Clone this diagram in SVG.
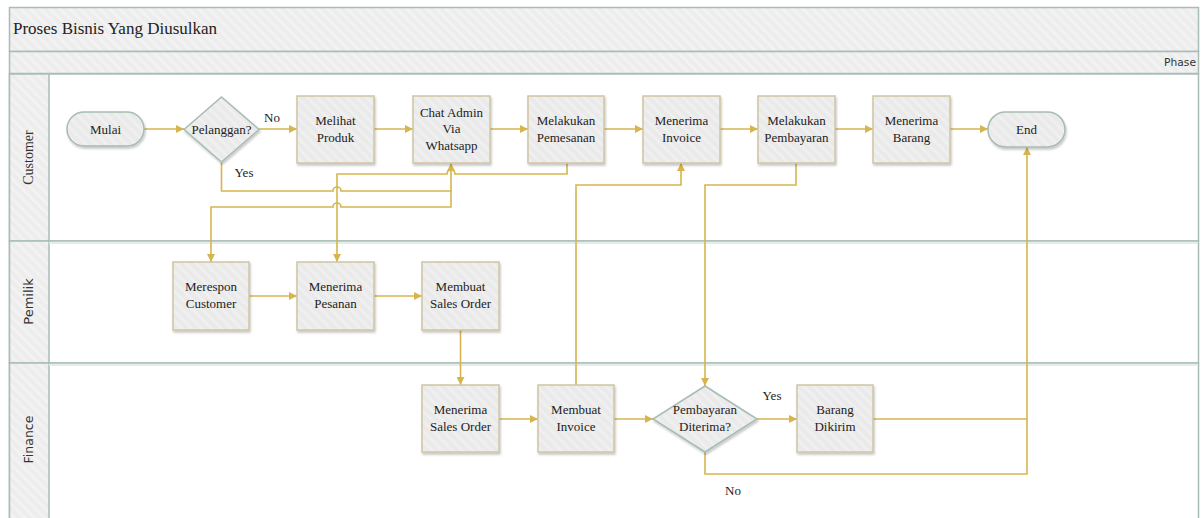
<svg xmlns="http://www.w3.org/2000/svg" width="1201" height="518" viewBox="0 0 1201 518">
<style>
.band{fill:url(#hatch);stroke:#a9bdb6;stroke-width:1.5}
.lane{fill:#fff;stroke:#a9bdb6;stroke-width:1.5}
.box{fill:url(#nodeFill);stroke:#cfc5a3;stroke-width:1.5;filter:url(#sh)}
.term{fill:url(#nodeFill);stroke:#a7bcb3;stroke-width:1.5;filter:url(#sh)}
.t{font-family:"Liberation Serif","Times New Roman",serif;font-size:13px;fill:#222;text-anchor:middle}
.lbl{font-family:"Liberation Serif","Times New Roman",serif;font-size:13px;fill:#222;text-anchor:middle}
.c{fill:none;stroke:#d6b54f;stroke-width:1.6}
.ca{fill:none;stroke:#d6b54f;stroke-width:1.6;marker-end:url(#arr)}
</style>
<defs>
<pattern id="hatch" patternUnits="userSpaceOnUse" width="7" height="7" patternTransform="rotate(-45)">
<rect width="7" height="7" fill="#ededed"/>
<rect width="2.5" height="7" fill="#f3f3f3"/>
</pattern>
<pattern id="nodeFill" patternUnits="userSpaceOnUse" width="7" height="7" patternTransform="rotate(-45)">
<rect width="7" height="7" fill="#eaeaea"/>
<rect width="2.5" height="7" fill="#f0f0f0"/>
</pattern>
<marker id="arr" markerUnits="userSpaceOnUse" markerWidth="9" markerHeight="8" refX="8" refY="4" orient="auto">
<path d="M0,0 L8,4 L0,8 Z" fill="#d6b54f"/>
</marker>
<filter id="sh" x="-10%" y="-10%" width="130%" height="130%">
<feDropShadow dx="1" dy="2" stdDeviation="1.2" flood-color="#000" flood-opacity="0.22"/>
</filter>
</defs>

<g id="pool">
<rect class="band" x="9.5" y="7.5" width="1189" height="44"/>
<text x="13" y="34" style="font-family:'Liberation Serif',serif;font-size:17px;fill:#222">Proses Bisnis Yang Diusulkan</text>
<rect class="band" x="9.5" y="51.5" width="1189" height="22"/>
<text x="1196" y="66" style="font-family:'DejaVu Sans',sans-serif;font-size:10.7px;fill:#333;text-anchor:end">Phase</text>
</g>

<g id="lanes">
<rect class="lane" x="9.5" y="74" width="1189" height="167"/>
<rect class="lane" x="9.5" y="241" width="1189" height="122"/>
<rect class="lane" x="9.5" y="363" width="1189" height="160"/>
<rect class="band" x="9.5" y="74" width="39.5" height="167"/>
<rect class="band" x="9.5" y="241" width="39.5" height="122"/>
<rect class="band" x="9.5" y="363" width="39.5" height="160"/>
<line x1="49" y1="243" x2="1198" y2="243" stroke="#e6ecea" stroke-width="2"/>
<line x1="49" y1="365" x2="1198" y2="365" stroke="#e6ecea" stroke-width="2"/>
<text transform="translate(33,157.5) rotate(-90)" style="font-family:'Liberation Serif',serif;font-size:14px;fill:#333;text-anchor:middle">Customer</text>
<text transform="translate(33,301.5) rotate(-90)" style="font-family:'DejaVu Sans',sans-serif;font-size:13px;fill:#333;text-anchor:middle">Pemilik</text>
<text transform="translate(33,439.5) rotate(-90)" style="font-family:'DejaVu Sans',sans-serif;font-size:12.5px;fill:#333;text-anchor:middle">Finance</text>
</g>

<g id="connectors">
<path class="ca" d="M144,129 H184"/>
<path class="ca" d="M259,129 H297"/>
<path class="ca" d="M374,129 H413"/>
<path class="ca" d="M490,129 H528"/>
<path class="ca" d="M604,129 H643"/>
<path class="ca" d="M720,129 H758"/>
<path class="ca" d="M835,129 H873"/>
<path class="ca" d="M950,129 H988"/>
<path class="ca" d="M221.5,162 V191 H333 A4,4 0 0 1 341,191 H451 V163"/>
<path class="ca" d="M567,163 V174 H455 A4,4 0 0 0 447,174 H337 V262"/>
<path class="ca" d="M451,191 V207 H341 A4,4 0 0 0 333,207 H211 V262"/>
<path class="ca" d="M249,296 H297"/>
<path class="ca" d="M374,296 H422"/>
<path class="ca" d="M460.5,330 V385"/>
<path class="ca" d="M499,419 H538"/>
<path class="ca" d="M614,419 H653"/>
<path class="ca" d="M757,419 H797"/>
<path class="ca" d="M576,385 V185 H681 V163"/>
<path class="ca" d="M796,163 V185 H705 V386"/>
<path class="c" d="M873,419 H1027"/>
<path class="ca" d="M705,452 V474 H1027 V147"/>
<text class="lbl" x="272" y="122">No</text>
<text class="lbl" x="244" y="177">Yes</text>
<text class="lbl" x="772" y="400">Yes</text>
<text class="lbl" x="733" y="495">No</text>
</g>

<g id="mulai"><rect class="term" x="67" y="112" width="77" height="34" rx="17"/><text class="t" x="105.5" y="133.5">Mulai</text></g>
<g id="pelanggan"><polygon class="term" points="221.5,97 259,129.5 221.5,162 184,129.5"/><text class="t" x="221.5" y="134">Pelanggan?</text></g>
<g id="melihat"><rect class="box" x="297" y="96" width="77" height="67"/><text class="t" x="335.5" y="125">Melihat</text><text class="t" x="335.5" y="142">Produk</text></g>
<g id="chat"><rect class="box" x="413" y="96" width="77" height="67"/><text class="t" x="451.5" y="116.5">Chat Admin</text><text class="t" x="451.5" y="133">Via</text><text class="t" x="451.5" y="150">Whatsapp</text></g>
<g id="pemesanan"><rect class="box" x="528" y="96" width="76" height="67"/><text class="t" x="566" y="125">Melakukan</text><text class="t" x="566" y="142">Pemesanan</text></g>
<g id="terima-invoice"><rect class="box" x="643" y="96" width="77" height="67"/><text class="t" x="681.5" y="125">Menerima</text><text class="t" x="681.5" y="142">Invoice</text></g>
<g id="pembayaran"><rect class="box" x="758" y="96" width="77" height="67"/><text class="t" x="796.5" y="125">Melakukan</text><text class="t" x="796.5" y="142">Pembayaran</text></g>
<g id="terima-barang"><rect class="box" x="873" y="96" width="77" height="67"/><text class="t" x="911.5" y="125">Menerima</text><text class="t" x="911.5" y="142">Barang</text></g>
<g id="end"><rect class="term" x="988" y="112" width="77" height="35" rx="17.5"/><text class="t" x="1026.5" y="133.5">End</text></g>

<g id="merespon"><rect class="box" x="173" y="262" width="76" height="68"/><text class="t" x="211" y="291">Merespon</text><text class="t" x="211" y="308">Customer</text></g>
<g id="terima-pesanan"><rect class="box" x="297" y="262" width="77" height="68"/><text class="t" x="335.5" y="291">Menerima</text><text class="t" x="335.5" y="308">Pesanan</text></g>
<g id="buat-so"><rect class="box" x="422" y="262" width="77" height="68"/><text class="t" x="460.5" y="291">Membuat</text><text class="t" x="460.5" y="308">Sales Order</text></g>

<g id="terima-so"><rect class="box" x="422" y="385" width="77" height="67"/><text class="t" x="460.5" y="414">Menerima</text><text class="t" x="460.5" y="431">Sales Order</text></g>
<g id="buat-invoice"><rect class="box" x="538" y="385" width="76" height="67"/><text class="t" x="576" y="414">Membuat</text><text class="t" x="576" y="431">Invoice</text></g>
<g id="diterima"><polygon class="term" points="705,386 757,419 705,452 653,419"/><text class="t" x="705" y="414">Pembayaran</text><text class="t" x="705" y="431">Diterima?</text></g>
<g id="dikirim"><rect class="box" x="797" y="385" width="76" height="67"/><text class="t" x="835" y="414">Barang</text><text class="t" x="835" y="431">Dikirim</text></g>
</svg>
